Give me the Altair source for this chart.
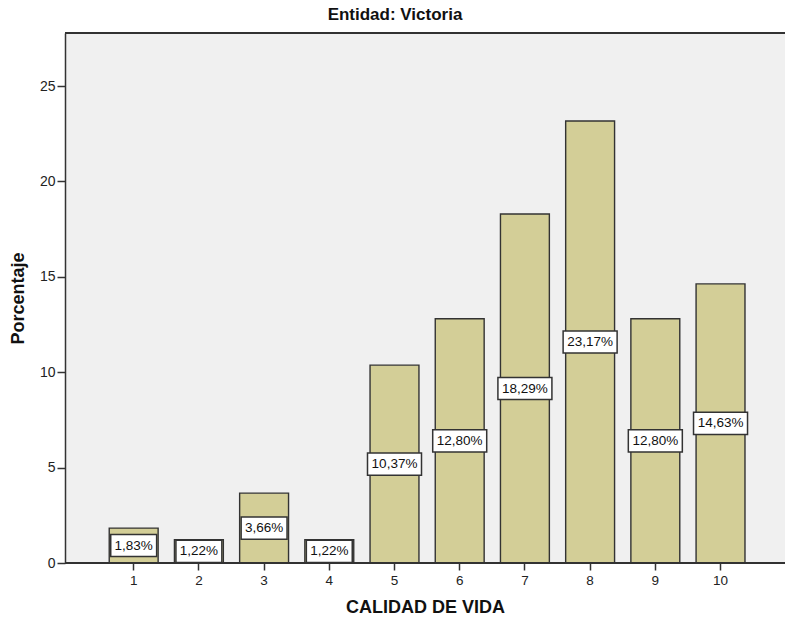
import altair as alt
import pandas as pd

categories = [1, 2, 3, 4, 5, 6, 7, 8, 9, 10]
percentages = [1.83, 1.22, 3.66, 1.22, 10.37, 12.80, 18.29, 23.17, 12.80, 14.63]
y_ticks = [0, 5, 10, 15, 20, 25]

df = pd.DataFrame({"cat": categories, "pct": percentages})

FONT = "Liberation Sans"

x_enc = alt.X(
    "cat:O",
    title="CALIDAD DE VIDA",
    scale=alt.Scale(paddingInner=0.25, paddingOuter=0.646, align=0.525),
    axis=alt.Axis(
        labelAngle=0, labelFont=FONT, labelFontSize=13.5, labelColor="#222",
        tickSize=7, tickColor="#333", tickWidth=1.5, domain=False,
        labelPadding=3, titleFont=FONT, titleFontSize=18, titleFontWeight="bold",
        titleColor="#111", titlePadding=12,
    ),
)
y_scale = alt.Scale(domain=[0, 27.78], nice=False)

bars = alt.Chart(df).mark_bar(
    fill="#D3CE97", stroke="#333333", strokeWidth=1.4
).encode(
    x=x_enc,
    y=alt.Y(
        "pct:Q", title="Porcentaje", scale=y_scale,
        axis=alt.Axis(
            values=y_ticks, grid=False, labelFont=FONT, labelFontSize=14,
            labelColor="#222", tickSize=8, tickColor="#333", tickWidth=1.5,
            domainColor="#333", domainWidth=1.5, labelPadding=2,
            titleFont=FONT, titleFontSize=18, titleFontWeight="bold",
            titleColor="#111", titlePadding=12,
        ),
    ),
)

base_lbl = alt.Chart(df).transform_calculate(
    ly="max(datum.pct / 2, 0.57)",
    txt="replace(format(datum.pct, '.2f'), '.', ',') + '%'",
    nch="length(replace(format(datum.pct, '.2f'), '.', ',') + '%')",
)

box6 = "M-1,-0.41L1,-0.41L1,0.41L-1,0.41Z"
box5 = "M-0.85,-0.41L0.85,-0.41L0.85,0.41L-0.85,0.41Z"

boxes = base_lbl.mark_point(
    filled=True, fill="white", stroke="#333333", strokeWidth=1.5, opacity=1, size=2916
).encode(
    x="cat:O",
    y=alt.Y("ly:Q", scale=y_scale),
    shape=alt.Shape("nch:O", scale=alt.Scale(domain=[5, 6], range=[box5, box6]), legend=None),
)

texts = base_lbl.mark_text(
    font=FONT, fontSize=13.5, color="#111", baseline="middle", align="center"
).encode(
    x="cat:O",
    y=alt.Y("ly:Q", scale=y_scale),
    text="txt:N",
)

bottom_axis = alt.Chart(df).mark_rule(color="#333333", strokeWidth=1.5).encode(
    y=alt.value(530)
)
top_border = alt.Chart(df).mark_rule(color="#333333", strokeWidth=1.5).encode(
    y=alt.value(0)
)

chart = alt.layer(bars, boxes, texts, bottom_axis, top_border).properties(
    width=720,
    height=530,
    autosize=alt.AutoSizeParams(type="none"),
    padding={"left": 65, "top": 33, "right": 0, "bottom": 58},
    title=alt.TitleParams(
        "Entidad: Victoria", font=FONT, fontSize=17, fontWeight="bold",
        color="#111", anchor="middle", dx=-30, offset=8,
    ),
    background="white",
).configure_view(stroke=None, fill="#F0F0F0")

chart.save("out.html", embed_options={"renderer": "svg", "actions": False})
